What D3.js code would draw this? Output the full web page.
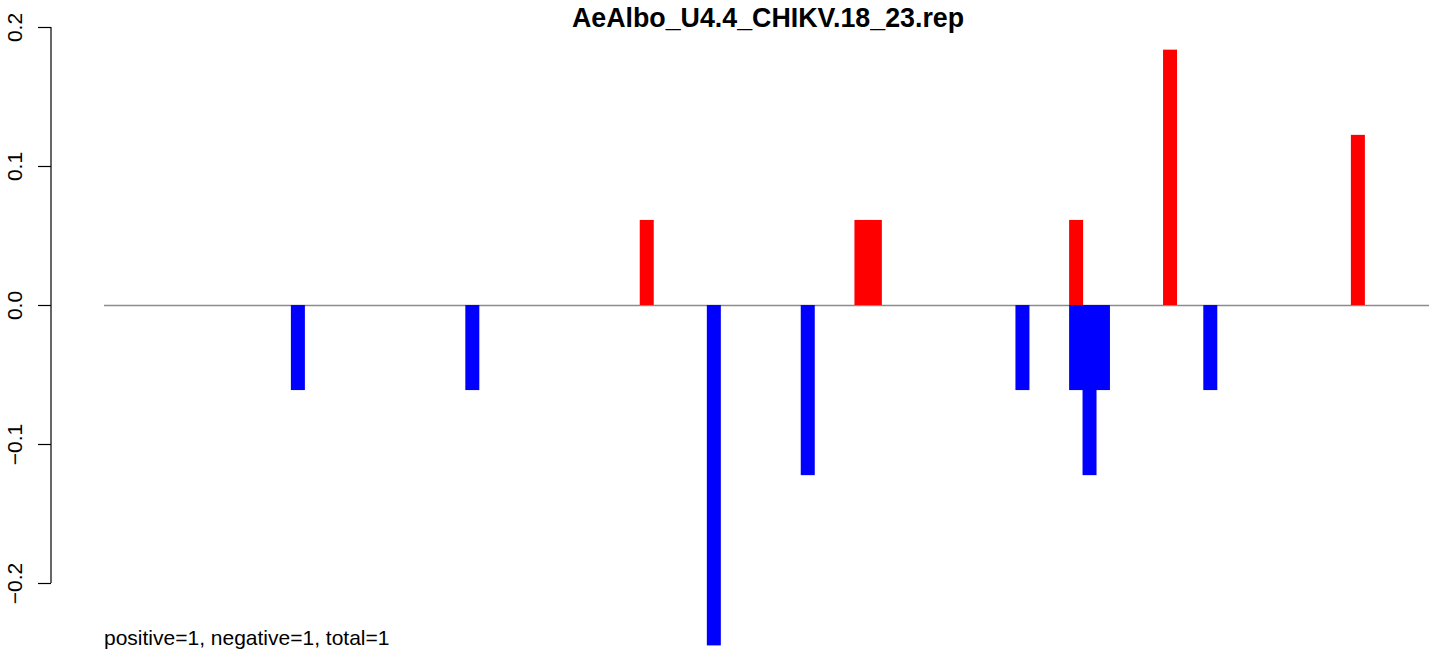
<!DOCTYPE html>
<html>
<head>
<meta charset="utf-8">
<script src="https://cdn.jsdelivr.net/npm/d3@7"></script>
<style>
  html, body { margin: 0; padding: 0; background: #ffffff; }
  svg { display: block; }
  text { font-family: "Liberation Sans", Arial, Helvetica, sans-serif; }
</style>
</head>
<body>
<svg id="chart" width="1429" height="649"></svg>
<script>
// ---- data ----
const title = "AeAlbo_U4.4_CHIKV.18_23.rep";
const footnote = "positive=1, negative=1, total=1";
const yTicks = [-0.2, -0.1, 0.0, 0.1, 0.2];
// positions (index along the sequence) and values of positive (red) bars
const posIndex = [40, 56, 57, 72, 79, 93];
const posValue = [0.0612, 0.0612, 0.0612, 0.0612, 0.1837, 0.1224];
// positions and values of negative (blue) bars
const negIndex = [14, 27, 45, 52, 68, 72, 73, 74, 82];
const negValue = [-0.0612, -0.0612, -0.2449, -0.1224, -0.0612, -0.0612, -0.1224, -0.0612, -0.0612];
const xDomain = [-0.45, 98.3];

// ---- layout ----
const svg = d3.select("#chart");

const x = d3.scaleLinear().domain(xDomain).range([104, 1429]);
const y = d3.scaleLinear().domain([-0.2, 0.2]).range([583, 27]);
const barW = 14;

// zero line
svg.append("line")
  .attr("x1", x(xDomain[0])).attr("x2", x(xDomain[1]))
  .attr("y1", y(0) + 0.5).attr("y2", y(0) + 0.5)
  .attr("stroke", "#8c8c8c").attr("stroke-width", 1.3);

// positive bars
svg.append("g").selectAll("rect")
  .data(posIndex.map((k, i) => ({k, v: posValue[i]})))
  .join("rect")
  .attr("x", d => x(d.k) - barW / 2)
  .attr("width", barW)
  .attr("y", d => y(d.v))
  .attr("height", d => y(0) - y(d.v))
  .attr("fill", "#ff0000");

// negative bars
svg.append("g").selectAll("rect")
  .data(negIndex.map((k, i) => ({k, v: negValue[i]})))
  .join("rect")
  .attr("x", d => x(d.k) - barW / 2)
  .attr("width", barW)
  .attr("y", y(0))
  .attr("height", d => y(d.v) - y(0))
  .attr("fill", "#0000ff");

// y axis
const yAxis = d3.axisLeft(y).tickValues(yTicks).tickSize(13).tickPadding(0)
  .tickFormat(d => d3.format(".1f")(d).replace("-", "\u2212"));
const gy = svg.append("g").attr("transform", "translate(51,0)").call(yAxis);
gy.select(".domain").attr("stroke", "#000").attr("stroke-width", 1.2)
  .attr("d", `M0,${y(0.2)}V${y(-0.2)}`);
gy.selectAll(".tick line").attr("stroke", "#000").attr("stroke-width", 1.2);
gy.selectAll(".tick text")
  .attr("x", null).attr("dy", null)
  .attr("transform", "translate(-29,0) rotate(-90)")
  .attr("text-anchor", "middle")
  .attr("fill", "#000")
  .style("font-size", "21px")
  .style("font-family", "'Liberation Sans', Arial, sans-serif");

// title
svg.append("text")
  .attr("x", 768).attr("y", 27)
  .attr("text-anchor", "middle")
  .style("font-weight", "bold")
  .style("font-size", "26.8px")
  .text(title);

// footnote
svg.append("text")
  .attr("x", 104).attr("y", 645)
  .style("font-size", "21px")
  .text(footnote);
</script>
</body>
</html>
